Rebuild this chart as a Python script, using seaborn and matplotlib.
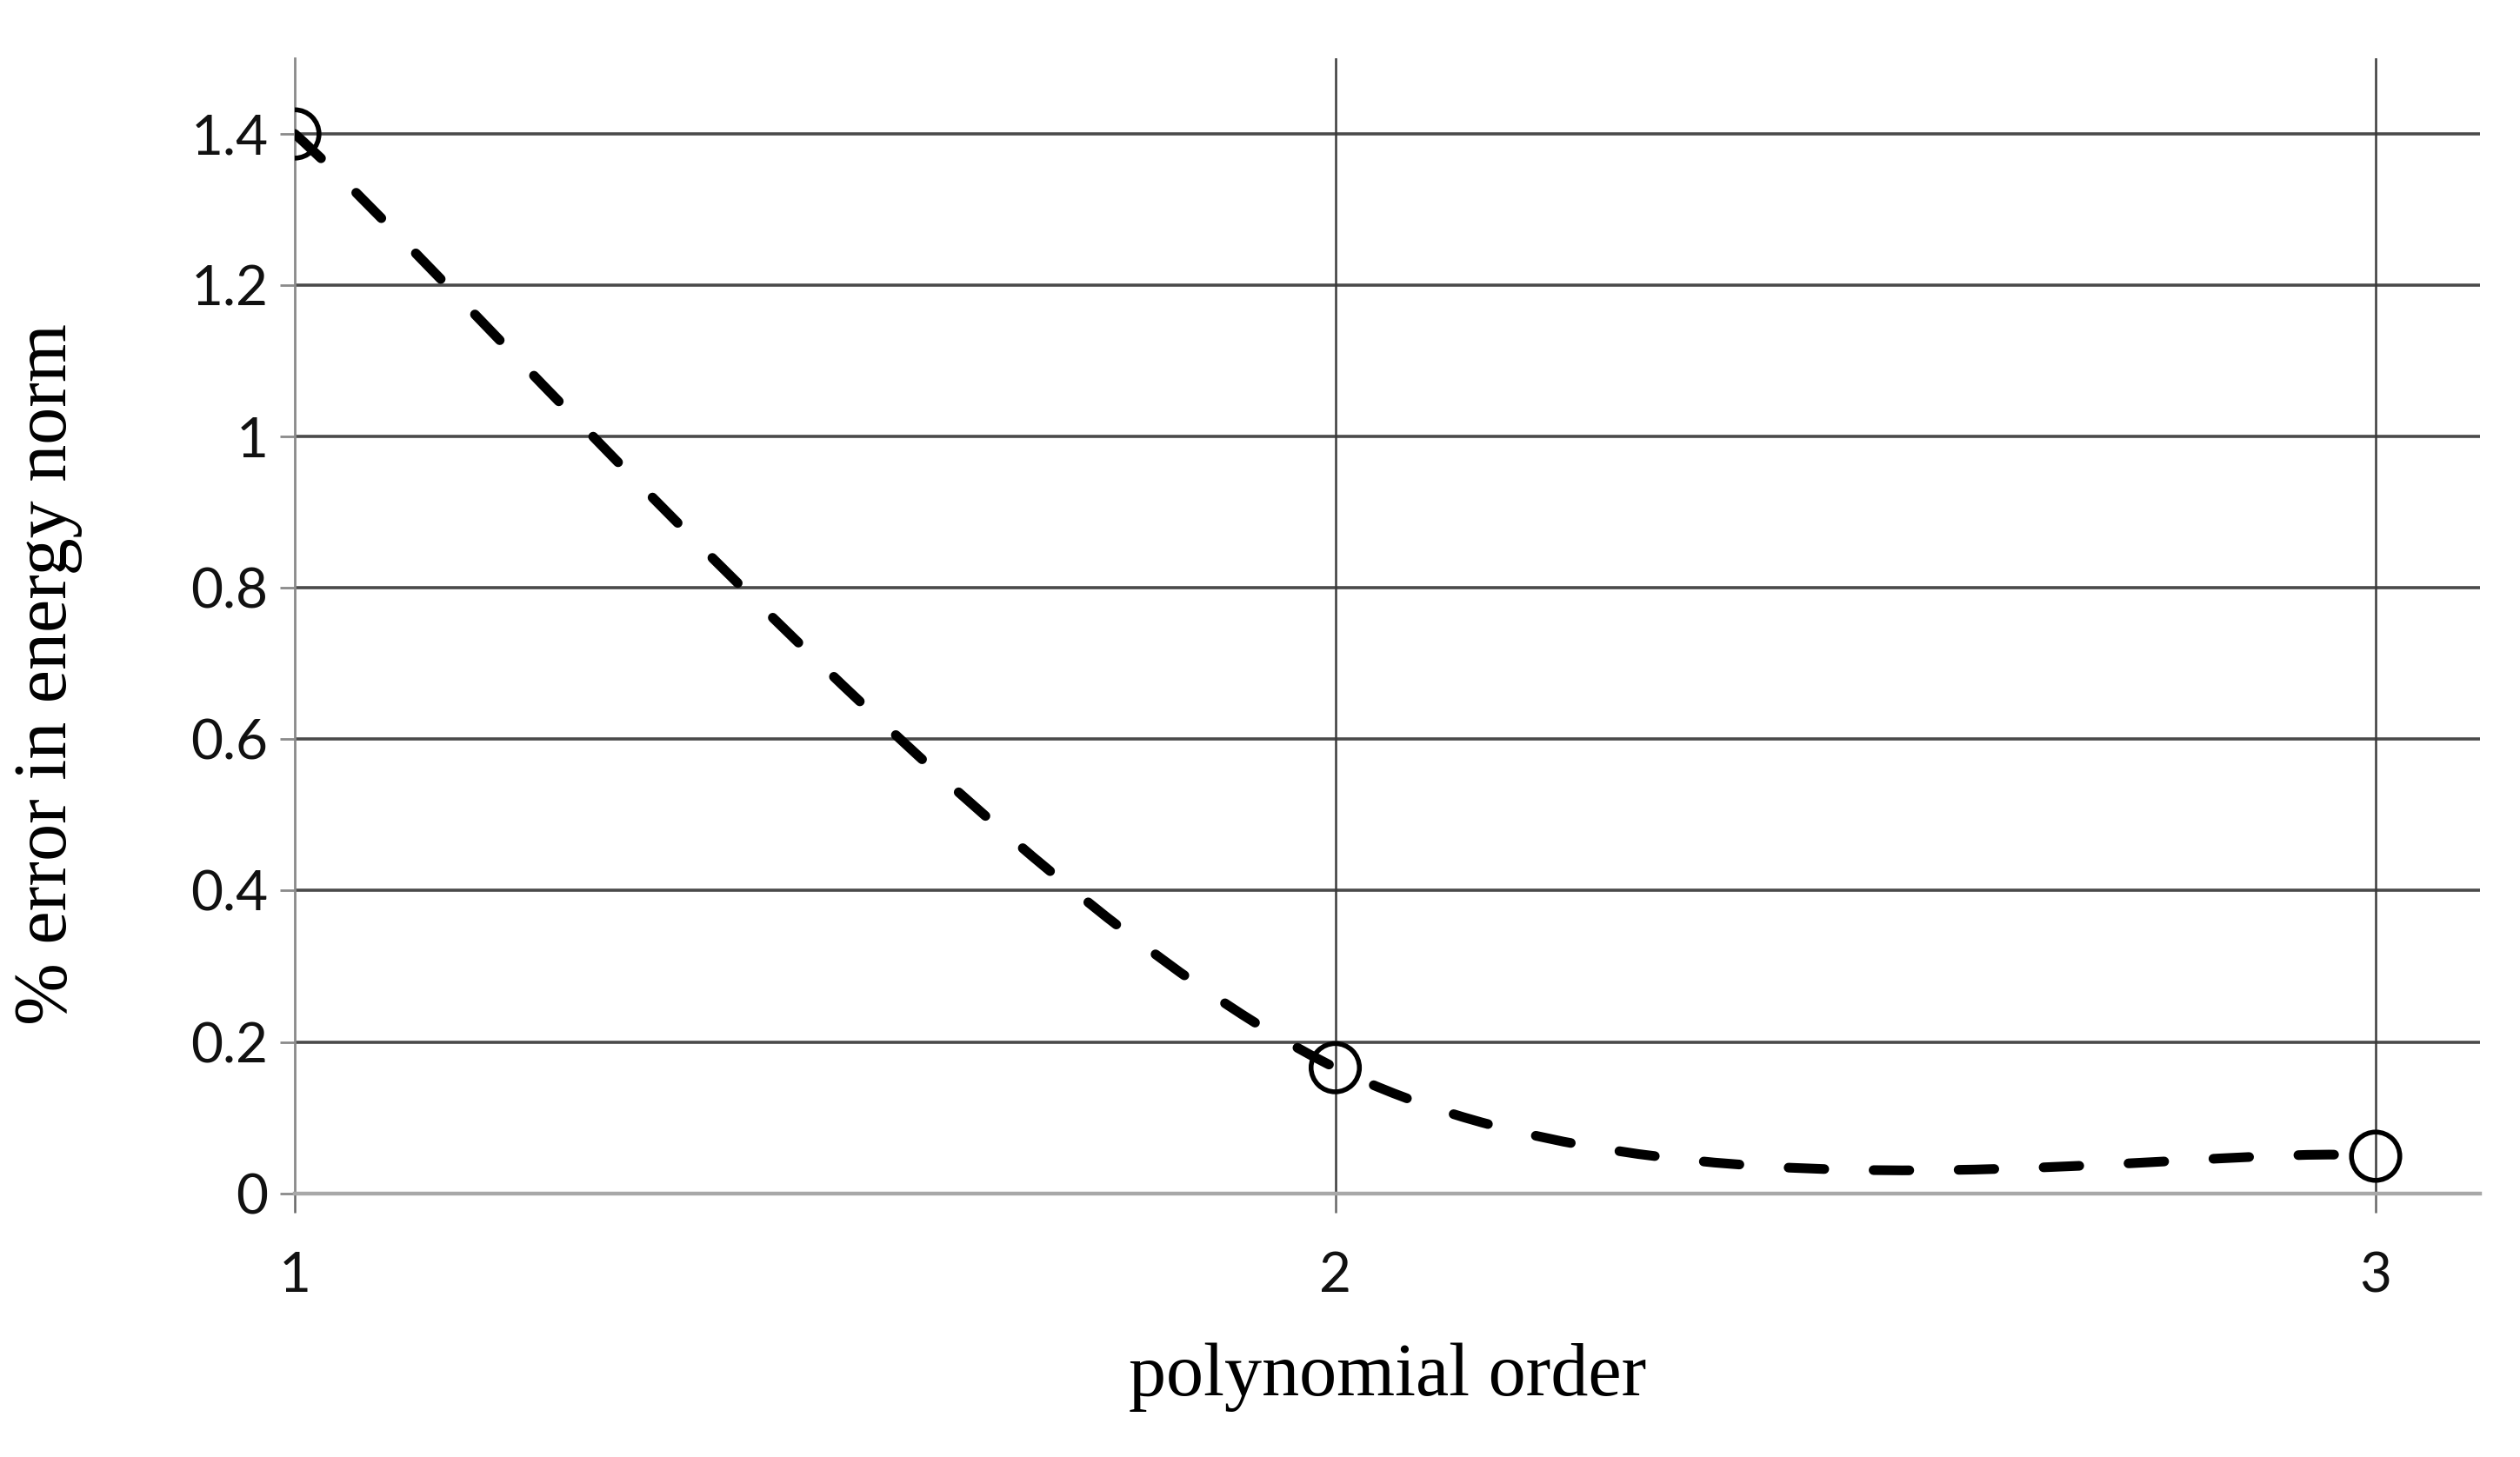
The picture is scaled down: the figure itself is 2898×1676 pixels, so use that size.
import numpy as np
import matplotlib
matplotlib.use("Agg")
import matplotlib.pyplot as plt
from matplotlib.path import Path
from matplotlib.patches import PathPatch
import seaborn as sns
import pandas as pd

# data
poly_order = [1, 2, 3]
energy_err = [1.40, 0.166, 0.049]
y_ticks = [0, 0.2, 0.4, 0.6, 0.8, 1.0, 1.2, 1.4]
y_tick_labels = ["0", "0.2", "0.4", "0.6", "0.8", "1", "1.2", "1.4"]
x_ticks = [1, 2, 3]

df = pd.DataFrame({"order": poly_order, "err": energy_err})

sns.set_style("white")
plt.rcParams["font.family"] = ["Lato", "DejaVu Sans"]

fig = plt.figure(figsize=(14.49, 8.38), dpi=200)
ax = fig.add_axes([0.117, 0.181, 0.867, 0.779])

# grid lines (Excel style)
for yv in y_ticks[1:]:
    ax.axhline(yv, color="#4a4a4a", lw=1.3, zorder=1)
for xv in x_ticks[1:]:
    ax.axvline(xv, color="#3a3a3a", lw=0.9, zorder=1)

# smoothed line: cubic Bezier segments built from the data (Excel "smoothed line")
pts = np.column_stack([df["order"], df["err"]])
n = len(pts)
verts = [tuple(pts[0])]
codes = [Path.MOVETO]
for i in range(n - 1):
    p_prev = pts[max(i - 1, 0)]
    p0 = pts[i]
    p1 = pts[i + 1]
    p_next = pts[min(i + 2, n - 1)]
    c1 = p0 + (p1 - p_prev) / 6.0
    c2 = p1 - (p_next - p0) / 6.0
    verts += [tuple(c1), tuple(c2), tuple(p1)]
    codes += [Path.CURVE4] * 3
curve = PathPatch(Path(verts, codes), facecolor="none", edgecolor="black",
                  lw=4.0, linestyle=(0, (3.7, 5.1)), capstyle="round", zorder=4)
ax.add_patch(curve)

sns.scatterplot(data=df, x="order", y="err", ax=ax, s=400, marker="o",
                facecolors="none", edgecolor="black", linewidth=2.0, zorder=3)

ax.set_xlim(1, 3.1)
ax.set_ylim(0, 1.5)
ax.set_xticks(x_ticks)
ax.set_yticks(y_ticks)
ax.set_yticklabels(y_tick_labels)

for side in ["top", "right"]:
    ax.spines[side].set_visible(False)
ax.spines["left"].set_color("#8a8a8a")
ax.spines["left"].set_linewidth(1.0)
ax.spines["bottom"].set_color("#a8a8a8")
ax.spines["bottom"].set_linewidth(1.6)

ax.tick_params(axis="y", direction="out", length=6, width=1.0, color="#8a8a8a",
               pad=5, labelsize=23, labelcolor="#111111", left=True)
ax.tick_params(axis="x", direction="out", length=8, width=0.9, color="#666666",
               pad=16, labelsize=23, labelcolor="#111111", bottom=True)

ax.set_xlabel("polynomial order", fontsize=31, family=["Liberation Serif"],
              va="center", color="black")
ax.set_ylabel("% error in energy norm", fontsize=31, family=["Liberation Serif"],
              va="center", color="black")
ax.xaxis.set_label_coords(0.5, -0.162)
ax.yaxis.set_label_coords(-0.113, 0.457)

fig.savefig("out.png", dpi=200, facecolor="white")
